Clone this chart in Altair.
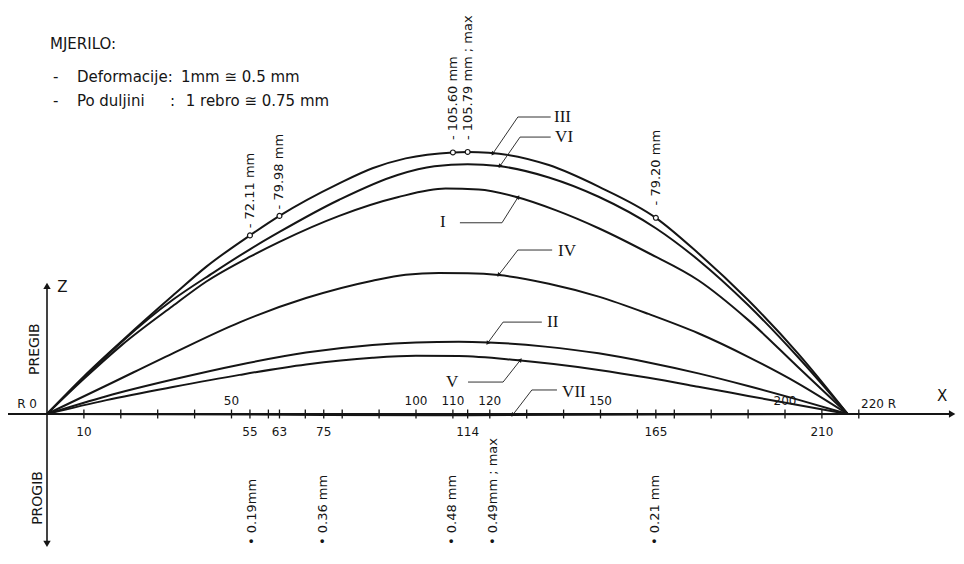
import math
import altair as alt
import pandas as pd

# ---------------- data ----------------
I_x = [0, 10, 20, 34, 43.2, 55, 63, 79.2, 95, 108, 117, 127, 138, 149.5, 163, 176.5, 190, 203.5, 217]
I_z = [0, 14.2, 27.5, 43.5, 53.5, 63.5, 69.5, 80.0, 87.5, 91.0, 90.6, 87.7, 82.2, 75.0, 65.0, 54.0, 38.0, 19.0, 0]

II_x = [0, 16.1, 34.1, 52.2, 70.2, 88.2, 100, 111.6, 119.7, 135, 149.5, 163, 176.5, 190, 203.5, 217]
II_z = [0, 7.2, 13.9, 19.9, 24.8, 27.9, 28.9, 29.2, 28.9, 27.2, 24.5, 20.8, 16.4, 11.3, 5.8, 0]

III_x = [0, 10, 20.6, 34.1, 43.2, 55, 63, 79.2, 88.2, 97.2, 110, 114, 119.7, 136, 149.5, 165, 176.5, 190, 203.5, 217]
III_z = [0, 15.2, 29.9, 47.8, 59.5, 72.11, 79.98, 93.1, 99.2, 103.2, 105.60, 105.79, 105.5, 100.5, 91.8, 79.20, 64.9, 46.0, 24.5, 0]

IV_x = [0, 16.1, 34.1, 52.2, 70.2, 88.2, 97.2, 106.2, 114, 122.4, 136, 149.5, 163, 176.5, 190, 203.5, 217]
IV_z = [0, 11.5, 24.5, 37.0, 46.8, 53.8, 56.2, 56.9, 56.8, 56.1, 52.6, 47.4, 40.4, 32.6, 23.1, 12.4, 0]

V_x = [0, 16.1, 34.1, 52.2, 70.2, 88.2, 100, 111.6, 127, 149.5, 163, 176.5, 190, 203.5, 217]
V_z = [0, 5.6, 10.9, 15.8, 20.0, 22.7, 23.5, 23.4, 21.8, 17.8, 14.6, 11.0, 7.3, 3.6, 0]

VI_x = [0, 10, 20, 34, 45, 55, 63, 79.2, 95, 105, 114, 122.4, 136, 149.5, 165, 176.5, 190, 203.5, 217]
VI_z = [0, 14.8, 28.8, 46.0, 57.0, 66.5, 73.5, 86.5, 96.5, 100.0, 100.8, 100.1, 95.5, 87.7, 75.0, 62.2, 44.0, 23.0, 0]

# VII: downward deflection (progib), practically on the axis
VII_x = [0, 55, 75, 110, 114, 165, 217]
VII_z = [0, -0.19, -0.36, -0.48, -0.49, -0.21, 0]

curves = {"I": (I_x, I_z), "II": (II_x, II_z), "III": (III_x, III_z),
          "IV": (IV_x, IV_z), "V": (V_x, V_z), "VI": (VI_x, VI_z),
          "VII": (VII_x, VII_z)}

# measured points (pregib) on curve III
mark_x = [55, 63, 110, 114, 165]
mark_z = [72.11, 79.98, 105.60, 105.79, 79.20]
mark_text = ["- 72.11 mm", "- 79.98 mm", "- 105.60 mm", "- 105.79 mm ; max", "- 79.20 mm"]
mark_text_z = [75.0, 82.6, 110.6, 110.6, 84.2]

# progib values written under the axis
prog_text = ["\u2022 0.19mm", "\u2022 0.36 mm", "\u2022 0.48 mm", "\u2022 0.49mm ; max", "\u2022 0.21 mm"]
prog_x = [55.5, 74.8, 109.8, 120.9, 164.8]

# axis ticks and tick labels (rib numbers)
tick_x = list(range(10, 220, 10)) + [55, 63, 75, 114, 165, 220]
upper_labels = [50, 100, 110, 120, 150, 200]
lower_labels = [10, 55, 63, 75, 114, 165, 210]

# curve name labels and their leader lines (label end, elbow, arrow tip)
name_text = ["III", "VI", "I", "IV", "II", "V", "VII"]
name_x = [137.4, 137.7, 107.3, 138.5, 135.5, 109.8, 139.6]
name_z = [119.9, 111.8, 77.5, 65.8, 37.3, 12.9, 9.0]
name_align = ["left", "left", "center", "left", "left", "center", "left"]
leader_x = [[136.5, 127.6, 120.9], [136.5, 128.2, 122.8], [111.9, 123.3, 127.6],
            [136.9, 127.6, 122.5], [134.1, 123.6, 119.5], [114.1, 123.6, 128.2],
            [138.2, 131.4, 126.3]]
leader_z = [[119.9, 119.9, 105.3], [111.8, 111.8, 100.2], [77.2, 77.2, 87.4],
            [66.2, 66.2, 56.3], [37.1, 37.1, 28.8], [12.9, 12.9, 21.6],
            [9.7, 9.7, -0.2]]

# ---------------- scales ----------------
W, H = 948, 540
PXX, PXZ = 3.69, 2.477          # pixels per rib / per mm
xmin = -39 / PXX
xmax = xmin + W / PXX
zmax = 406 / PXZ
zmin = zmax - H / PXZ
xs = alt.Scale(domain=[xmin, xmax], nice=False, zero=False)
zs = alt.Scale(domain=[zmin, zmax], nice=False, zero=False)


def X(f="x"):
    return alt.X(f, type="quantitative", scale=xs, axis=None)


def Y(f="z"):
    return alt.Y(f, type="quantitative", scale=zs, axis=None)


INK = "#151515"
FONT = "DejaVu Sans"

# curves
rows = []
for name, (cx, cz) in curves.items():
    for i, (a, b) in enumerate(zip(cx, cz)):
        rows.append({"curve": name, "i": i, "x": a, "z": b})
curve_df = pd.DataFrame(rows)
curve_layer = alt.Chart(curve_df).mark_line(color=INK, strokeWidth=2, interpolate="monotone").encode(
    x=X(), y=Y(), detail="curve:N", order="i:Q")

# axes
xaxis_df = pd.DataFrame({"x": [xmin, 245.0], "z": [0, 0]})
xaxis_layer = alt.Chart(xaxis_df).mark_line(color=INK, strokeWidth=2).encode(x=X(), y=Y())
zaxis_df = pd.DataFrame({"x": [0, 0], "z": [51.3, -52.0]})
zaxis_layer = alt.Chart(zaxis_df).mark_line(color=INK, strokeWidth=1.6).encode(x=X(), y=Y())
ax_arrow_df = pd.DataFrame({"x": [245.0, 0, 0], "z": [0, 51.3, -52.0], "a": [90, 0, 180]})
ax_arrow_layer = alt.Chart(ax_arrow_df).mark_point(shape="triangle", filled=True, color=INK, size=55, opacity=1).encode(
    x=X(), y=Y(), angle=alt.Angle("a:Q", scale=None))

# ticks
tick_df = pd.DataFrame({"x": tick_x, "lo": [-1.8] * len(tick_x), "hi": [1.8] * len(tick_x)})
tick_layer = alt.Chart(tick_df).mark_rule(color=INK, strokeWidth=1.3).encode(x=X(), y=Y("lo"), y2="hi")

# tick labels
up_df = pd.DataFrame({"x": upper_labels, "z": [5.3] * len(upper_labels), "t": [str(v) for v in upper_labels]})
lo_df = pd.DataFrame({"x": lower_labels, "z": [-7.3] * len(lower_labels), "t": [str(v) for v in lower_labels]})
up_layer = alt.Chart(up_df).mark_text(font=FONT, fontSize=12, color=INK, baseline="middle").encode(x=X(), y=Y(), text="t:N")
lo_layer = alt.Chart(lo_df).mark_text(font=FONT, fontSize=12, color=INK, baseline="middle").encode(x=X(), y=Y(), text="t:N")

end_df = pd.DataFrame({"x": [-5.4, 220.6], "z": [4.0, 4.0], "t": ["R 0", "220 R"], "al": ["center", "left"]})
end_l = alt.Chart(end_df[end_df.al == "center"]).mark_text(font=FONT, fontSize=12, color=INK, baseline="middle").encode(
    x=X(), y=Y(), text="t:N")
end_r = alt.Chart(end_df[end_df.al == "left"]).mark_text(font=FONT, fontSize=12, color=INK, baseline="middle", align="left").encode(
    x=X(), y=Y(), text="t:N")

# axis letters
xz_df = pd.DataFrame({"x": [4.2, 242.6], "z": [51.3, 7.3], "t": ["Z", "X"]})
xz_layer = alt.Chart(xz_df).mark_text(font=FONT, fontSize=15, color=INK, baseline="middle", align="center").encode(
    x=X(), y=Y(), text="t:N")

side_df = pd.DataFrame({"x": [-3.25, -2.45], "z": [26.2, -33.9], "t": ["PREGIB", "PROGIB"]})
side_layer = alt.Chart(side_df).mark_text(font=FONT, fontSize=14, color=INK, angle=270, baseline="middle",
                                          align="center").encode(x=X(), y=Y(), text="t:N")

# measured points and labels
m_df = pd.DataFrame({"x": mark_x, "z": mark_z})
m_layer = alt.Chart(m_df).mark_point(shape="circle", filled=True, fill="white", stroke=INK, strokeWidth=1.2,
                                     size=24, opacity=1).encode(x=X(), y=Y())
mt_df = pd.DataFrame({"x": mark_x, "z": mark_text_z, "t": mark_text})
mt_layer = alt.Chart(mt_df).mark_text(font=FONT, fontSize=13, color=INK, angle=270, align="left",
                                      baseline="middle").encode(x=X(), y=Y(), text="t:N")

pr_df = pd.DataFrame({"x": prog_x, "z": [-52.9] * len(prog_x), "t": prog_text})
pr_layer = alt.Chart(pr_df).mark_text(font=FONT, fontSize=13, color=INK, angle=270, align="left",
                                      baseline="middle").encode(x=X(), y=Y(), text="t:N")

# leaders
lrows, arows = [], []
for k, (lx, lz) in enumerate(zip(leader_x, leader_z)):
    for i, (a, b) in enumerate(zip(lx, lz)):
        lrows.append({"leader": k, "i": i, "x": a, "z": b})
    dx = (lx[2] - lx[1]) * PXX
    dy = -(lz[2] - lz[1]) * PXZ
    ang = math.degrees(math.atan2(dx, -dy)) % 360
    arows.append({"x": lx[2], "z": lz[2], "a": ang})
lead_layer = alt.Chart(pd.DataFrame(lrows)).mark_line(color="#333333", strokeWidth=1).encode(
    x=X(), y=Y(), detail="leader:N", order="i:Q")
lead_arrow = alt.Chart(pd.DataFrame(arows)).mark_point(shape="triangle", filled=True, color=INK, size=22,
                                                       opacity=1).encode(x=X(), y=Y(),
                                                                         angle=alt.Angle("a:Q", scale=None))

nm_df = pd.DataFrame({"x": name_x, "z": name_z, "t": name_text, "al": name_align})
nm_left = alt.Chart(nm_df[nm_df.al == "left"]).mark_text(font="Liberation Serif", fontSize=17, color=INK, align="left",
                                                         baseline="middle").encode(x=X(), y=Y(), text="t:N")
nm_center = alt.Chart(nm_df[nm_df.al == "center"]).mark_text(font="Liberation Serif", fontSize=17, color=INK,
                                                             align="center", baseline="middle").encode(
    x=X(), y=Y(), text="t:N")

# scale note (top left)
note_df = pd.DataFrame({
    "x": [0.8, 1.6, 8.1, 36.3, 1.6, 8.1, 33.3, 37.6],
    "z": [149.4, 136.1, 136.1, 136.1, 126.4, 126.4, 126.4, 126.4],
    "t": ["MJERILO:", "-", "Deformacije:", "1mm \u2245 0.5 mm", "-", "Po duljini", ":", "1 rebro \u2245 0.75 mm"],
})
note_layer = alt.Chart(note_df).mark_text(font=FONT, fontSize=15, color=INK, align="left", baseline="middle").encode(
    x=X(), y=Y(), text="t:N")

chart = alt.layer(
    curve_layer, xaxis_layer, zaxis_layer, tick_layer, ax_arrow_layer,
    lead_layer, lead_arrow, m_layer,
    up_layer, lo_layer, end_l, end_r, xz_layer, side_layer, mt_layer, pr_layer,
    nm_left, nm_center, note_layer,
).properties(
    width=W, height=H, autosize=alt.AutoSizeParams(type="none"), padding=0, background="white"
).configure_view(stroke=None)

chart.save("out.html", embed_options={"renderer": "svg", "actions": False})
